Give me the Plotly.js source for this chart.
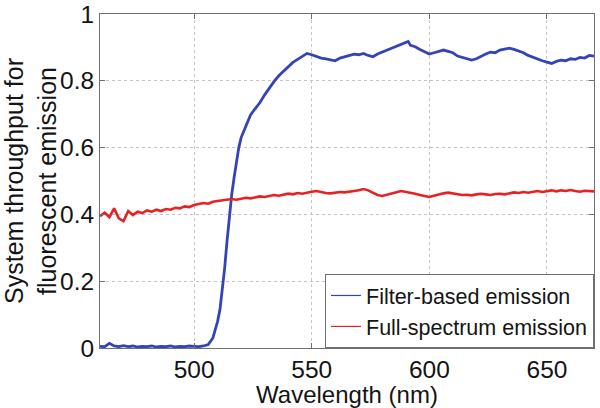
<!DOCTYPE html>
<html>
<head>
<meta charset="utf-8">
<script src="https://cdn.plot.ly/plotly-3.0.1.min.js"></script>
<style>html,body{margin:0;padding:0;background:#fff;}#chart{width:600px;height:408px;}</style>
</head>
<body>
<div id="chart"></div>
<script>
// Wavelength (nm) and throughput values
const wavelengthBlue = [460,462,464,466,468,470,472,474,476,478,480,482,484,486,488,490,492,494,496,498,500,502,504,506,508,509,510,511,512,513,514,515,516,517,518,519,520,521,522,523,524,526,528,530,532,534,536,538,540,542,544,546,548,550,552,554,556,558,560,562,564,566,568,570,572,574,576,578,580,582,584,586,588,590,591,592,594,596,598,600,602,604,606,608,610,612,614,616,618,620,622,624,626,628,630,632,634,636,638,640,642,644,646,648,650,652,654,656,658,660,662,664,666,668,670];
const filterBased = [0.005,0.004,0.014,0.006,0.004,0.007,0.004,0.006,0.003,0.005,0.004,0.006,0.003,0.005,0.004,0.006,0.003,0.005,0.004,0.006,0.005,0.004,0.006,0.010,0.030,0.054,0.080,0.115,0.170,0.240,0.320,0.400,0.460,0.510,0.560,0.600,0.630,0.648,0.665,0.683,0.698,0.717,0.735,0.758,0.780,0.798,0.815,0.828,0.840,0.855,0.864,0.872,0.882,0.878,0.872,0.868,0.866,0.862,0.860,0.868,0.872,0.878,0.880,0.878,0.882,0.876,0.872,0.880,0.886,0.890,0.896,0.902,0.908,0.914,0.918,0.906,0.902,0.894,0.886,0.880,0.884,0.888,0.892,0.888,0.884,0.874,0.870,0.864,0.862,0.866,0.874,0.880,0.886,0.884,0.892,0.896,0.898,0.894,0.890,0.884,0.876,0.870,0.864,0.860,0.856,0.852,0.858,0.862,0.860,0.866,0.864,0.870,0.868,0.876,0.874];

const wavelengthRed = [460,462,464,466,468,470,472,474,476,478,480,482,484,486,488,490,492,494,496,498,500,502,504,506,508,510,512,514,516,518,520,522,524,526,528,530,532,534,536,538,540,542,544,546,548,550,552,554,556,558,560,562,564,566,568,570,572,574,576,578,580,582,584,586,588,590,592,594,596,598,600,602,604,606,608,610,612,614,616,618,620,622,624,626,628,630,632,634,636,638,640,642,644,646,648,650,652,654,656,658,660,662,664,666,668,670];
const fullSpectrum = [0.395,0.405,0.392,0.418,0.388,0.380,0.410,0.398,0.408,0.404,0.412,0.408,0.414,0.410,0.416,0.414,0.420,0.418,0.424,0.422,0.428,0.430,0.434,0.432,0.438,0.440,0.442,0.444,0.446,0.444,0.448,0.450,0.448,0.452,0.454,0.452,0.456,0.458,0.456,0.460,0.462,0.460,0.464,0.462,0.466,0.468,0.470,0.466,0.464,0.463,0.465,0.467,0.466,0.469,0.470,0.472,0.476,0.472,0.466,0.458,0.455,0.458,0.462,0.466,0.470,0.468,0.464,0.462,0.458,0.454,0.452,0.456,0.460,0.463,0.465,0.463,0.460,0.458,0.459,0.457,0.460,0.462,0.460,0.458,0.461,0.462,0.460,0.463,0.466,0.464,0.467,0.465,0.468,0.470,0.467,0.470,0.472,0.469,0.472,0.470,0.473,0.470,0.468,0.471,0.470,0.469];

const seriesNames = ['Filter-based emission', 'Full-spectrum emission'];
const xTicks = [500, 550, 600, 650];
const yTicks = [0, 0.2, 0.4, 0.6, 0.8, 1];

const blue = '#3444b6';
const red = '#e62222';
const font = '"Liberation Sans", Arial, Helvetica, sans-serif';

const traces = [
  {x: wavelengthBlue, y: filterBased, type: 'scatter', mode: 'lines', line: {color: blue, width: 2.8}, showlegend: false, hoverinfo: 'skip'},
  {x: wavelengthRed, y: fullSpectrum, type: 'scatter', mode: 'lines', line: {color: red, width: 2.6}, showlegend: false, hoverinfo: 'skip'},
  {x: [null], y: [null], type: 'scatter', mode: 'lines', name: seriesNames[0], line: {color: blue, width: 1.2}},
  {x: [null], y: [null], type: 'scatter', mode: 'lines', name: seriesNames[1], line: {color: red, width: 1.2}}
];

const axisCommon = {
  showline: true, linecolor: '#707070', linewidth: 1, mirror: 'ticks',
  ticks: 'inside', ticklen: 5, tickcolor: '#707070', tickwidth: 1,
  showgrid: true, gridcolor: '#c4c4c4', griddash: 'dot', gridwidth: 1,
  zeroline: false, ticklabeloverflow: 'allow',
  tickfont: {family: font, size: 24.5, color: '#141414'}
};

const layout = {
  width: 600, height: 408,
  margin: {l: 100, r: 6, t: 14, b: 60},
  paper_bgcolor: '#ffffff', plot_bgcolor: '#ffffff',
  showlegend: true,
  legend: {
    x: 1, y: 0, xanchor: 'right', yanchor: 'bottom',
    bgcolor: '#ffffff', bordercolor: '#707070', borderwidth: 1,
    font: {family: font, size: 21.5, color: '#141414'},
    itemwidth: 30, tracegroupgap: 0
  },
  xaxis: Object.assign({}, axisCommon, {
    range: [460, 670], tickvals: xTicks, ticktext: xTicks.map(String),
    title: {text: 'Wavelength (nm)', font: {family: font, size: 24, color: '#141414'}, standoff: 4}
  }),
  yaxis: Object.assign({}, axisCommon, {
    range: [0, 1], tickvals: yTicks, ticktext: yTicks.map(String),
    title: {text: 'System throughput for<br>fluorescent emission', font: {family: font, size: 25, color: '#141414'}, standoff: 4}
  })
};

Plotly.newPlot('chart', traces, layout, {displayModeBar: false, staticPlot: true});
</script>
</body>
</html>
